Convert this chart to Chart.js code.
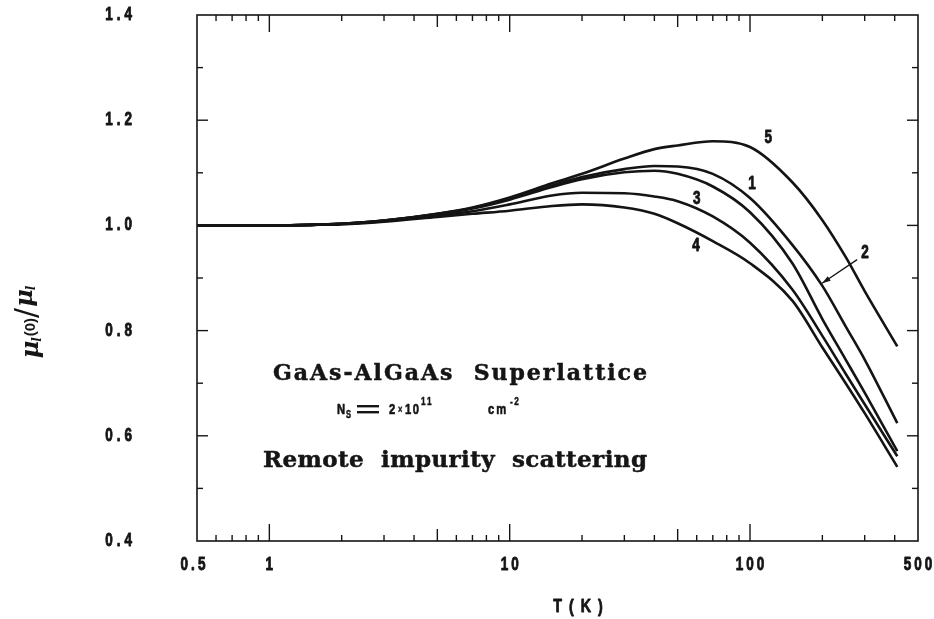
<!DOCTYPE html>
<html><head><meta charset="utf-8">
<script src="https://cdn.jsdelivr.net/npm/chart.js@4/dist/chart.umd.min.js"></script>
<style>html,body{margin:0;padding:0;background:#fff}</style>
</head><body>
<canvas id="c" width="934" height="619"></canvas>
<script>
// ---- data ----
const temps   = [0.5, 0.7, 1, 1.5, 2, 3, 5, 7, 10, 15, 20, 30, 40, 50, 70, 100, 150, 200, 250, 300, 410];
const curve1  = [1.000,1.000,1.000,1.001,1.003,1.009,1.022,1.033,1.051,1.076,1.092,1.107,1.113,1.112,1.098,1.052,0.963,0.885,0.808,0.745,0.624];
const curve2  = [1.000,1.000,1.000,1.001,1.003,1.009,1.021,1.032,1.049,1.073,1.088,1.101,1.104,1.098,1.074,1.025,0.928,0.822,0.745,0.682,0.571];
const curve3  = [1.000,1.000,1.000,1.001,1.003,1.008,1.019,1.027,1.040,1.057,1.062,1.061,1.055,1.046,1.017,0.967,0.878,0.790,0.718,0.660,0.561];
const curve4  = [1.000,1.000,1.000,1.001,1.002,1.007,1.016,1.022,1.028,1.037,1.040,1.034,1.022,1.004,0.970,0.928,0.857,0.768,0.700,0.643,0.541];
const curve5  = [1.000,1.000,1.000,1.001,1.003,1.009,1.022,1.034,1.053,1.080,1.098,1.127,1.145,1.152,1.160,1.149,1.082,1.010,0.940,0.875,0.770];
const curveNames = ['1','2','3','4','5'];
const xTickValues = [0.5, 1, 10, 100, 500];
const xTickLabels = ['0.5', '1', '10', '100', '500'];
const yTickValues = [0.4, 0.6, 0.8, 1.0, 1.2, 1.4];
const yTickLabels = ['0.4', '0.6', '0.8', '1.0', '1.2', '1.4'];
const xMajorMarks = [1, 10, 100];
const xMidMarks   = [5, 50];
const xMinorMarks = [0.6,0.7,0.8,0.9,2,3,4,6,7,8,9,20,30,40,60,70,80,90,200,300,400];
const yMajorMarks = [0.6, 0.8, 1.0, 1.2];
const yMinorMarks = [0.5, 0.7, 0.9, 1.1, 1.3];

// annotation anchors in data coordinates (T, value)
const curveLabelAnchors = [
  {text:'5', T:119, v:1.166},
  {text:'1', T:102, v:1.078},
  {text:'3', T:60,  v:1.050},
  {text:'4', T:59.6,v:0.961},
  {text:'2', T:301, v:0.947}
];
const arrowFrom = {T:279, v:0.935};
const arrowTo   = {T:199.5, v:0.890};

const SANS  = '"Liberation Sans", Arial, sans-serif';
const SERIF = '"DejaVu Serif", "Liberation Serif", serif';

// condensed bold text drawn glyph by glyph
function cond(ctx, text, x, y, o){
  const size = o.size || 18, sx = o.sx || 0.75, sp = o.sp || 0;
  ctx.save();
  ctx.font = 'bold ' + size + 'px ' + SANS;
  ctx.textAlign = 'left';
  ctx.textBaseline = o.baseline || 'middle';
  ctx.lineWidth = o.stroke === undefined ? 0.9 : o.stroke;
  ctx.lineJoin = 'round';
  const chars = [...text];
  const w = chars.map(c => ctx.measureText(c).width * sx);
  const total = w.reduce((a,b)=>a+b,0) + sp*(chars.length-1);
  let cx = o.align==='center' ? x-total/2 : o.align==='right' ? x-total : x;
  chars.forEach((c,i)=>{
    ctx.save(); ctx.translate(cx,y); ctx.scale(sx,1);
    ctx.fillText(c,0,0);
    if (ctx.lineWidth > 0) ctx.strokeText(c,0,0);
    ctx.restore(); cx += w[i]+sp;
  });
  ctx.restore();
  return total;
}

function drawFit(ctx, text, font, left, right, baseline){
  ctx.font = font;
  const chars = text.split('');
  const widths = chars.map(c => ctx.measureText(c).width);
  const total = widths.reduce((a,b)=>a+b,0);
  const extra = chars.length>1 ? ((right-left)-total)/(chars.length-1) : 0;
  let x = left;
  ctx.textAlign='left'; ctx.textBaseline='alphabetic';
  ctx.lineWidth = 0.5;
  chars.forEach((c,i)=>{ ctx.fillText(c, x, baseline); ctx.strokeText(c, x, baseline); x += widths[i] + extra; });
}

const deco = {
  id: 'deco',
  afterDatasetsDraw(chart){
    const {ctx, chartArea:a, scales:{x, y}} = chart;
    ctx.save();
    ctx.strokeStyle = '#151515';
    ctx.fillStyle = '#151515';
    ctx.lineWidth = 1.6;
    ctx.strokeRect(a.left, a.top, a.right-a.left, a.bottom-a.top);
    const seg = (x1,y1,x2,y2)=>{ctx.beginPath();ctx.moveTo(x1,y1);ctx.lineTo(x2,y2);ctx.stroke();};
    const xt = (v,len)=>{const p=x.getPixelForValue(v); seg(p,a.bottom,p,a.bottom-len); seg(p,a.top,p,a.top+len);};
    const yt = (v,len)=>{const p=y.getPixelForValue(v); seg(a.left,p,a.left+len,p); seg(a.right,p,a.right-len,p);};
    ctx.lineWidth = 1.4;
    xMajorMarks.forEach(v=>xt(v,17));
    xMidMarks.forEach(v=>xt(v,12));
    xMinorMarks.forEach(v=>xt(v,6));
    yMajorMarks.forEach(v=>yt(v,11));
    yMinorMarks.forEach(v=>yt(v,6));

    // tick labels
    xTickValues.forEach((v,i)=>cond(ctx, xTickLabels[i], x.getPixelForValue(v) - (i===0?4:0), a.bottom + 24, {align:'center', sp:3}));
    yTickValues.forEach((v,i)=>cond(ctx, yTickLabels[i], a.left - 65, y.getPixelForValue(v), {align:'right', sp:4}));

    // curve labels
    curveLabelAnchors.forEach(l=>cond(ctx, l.text, x.getPixelForValue(l.T), y.getPixelForValue(l.v), {align:'center'}));

    // arrow for curve 2
    const ax1=x.getPixelForValue(arrowFrom.T), ay1=y.getPixelForValue(arrowFrom.v);
    const ax2=x.getPixelForValue(arrowTo.T),   ay2=y.getPixelForValue(arrowTo.v);
    ctx.lineWidth=1.3; seg(ax1,ay1,ax2,ay2);
    const ang=Math.atan2(ay2-ay1, ax2-ax1);
    ctx.beginPath();
    ctx.moveTo(ax2,ay2);
    ctx.lineTo(ax2-9*Math.cos(ang-0.3), ay2-9*Math.sin(ang-0.3));
    ctx.lineTo(ax2-9*Math.cos(ang+0.3), ay2-9*Math.sin(ang+0.3));
    ctx.closePath(); ctx.fill();

    // text block
    drawFit(ctx, 'GaAs-AlGaAs  Superlattice', 'bold 22px ' + SERIF, 273, 647, 380);
    drawFit(ctx, 'Remote  impurity  scattering', 'bold 23px ' + SERIF, 263, 647, 467);

    // N_s = 2x10^11 cm^-2
    const bl = 414;
    cond(ctx, 'N', 337, bl, {size:15, baseline:'alphabetic', stroke:0.6});
    cond(ctx, 'S', 346, bl+4, {size:10, baseline:'alphabetic', stroke:0.5});
    ctx.fillRect(357, bl-9, 22, 2.4);
    ctx.fillRect(357, bl-3, 22, 2.4);
    cond(ctx, '2', 389, bl, {size:15, baseline:'alphabetic', stroke:0.6});
    cond(ctx, '×', 398, bl-1, {size:10, baseline:'alphabetic', stroke:0.4});
    cond(ctx, '10', 405, bl, {size:15, sp:1.5, baseline:'alphabetic', stroke:0.6});
    cond(ctx, '11', 421, bl-9, {size:11, sp:1.5, baseline:'alphabetic', stroke:0.5});
    cond(ctx, 'cm', 488, bl, {size:15, sp:2, baseline:'alphabetic', stroke:0.6});
    cond(ctx, '-2', 510, bl-9, {size:11, sp:1.5, baseline:'alphabetic', stroke:0.5});

    // x title
    cond(ctx, 'T(K)', 578, 607, {size:19, sp:7, align:'center'});

    // y title (rotated)
    ctx.save();
    ctx.translate(32, 322);
    ctx.rotate(-Math.PI/2);
    const parts = [
      {t:'μ', f:'italic bold 24px ' + SERIF, dy:0, g:-1},
      {t:'l', f:'italic bold 12px ' + SERIF, dy:3, g:1},
      {t:'(0)', f:'bold 15px ' + SANS, dy:-3, g:0},
      {t:'/', f:'30px "DejaVu Sans", sans-serif', dy:-2, g:1},
      {t:'μ', f:'italic bold 24px ' + SERIF, dy:-6, g:-1},
      {t:'l', f:'italic bold 12px ' + SERIF, dy:-3, g:0}
    ];
    let tw = 0;
    parts.forEach(p=>{ctx.font=p.f; p.w=ctx.measureText(p.t).width; tw+=p.w+p.g;});
    let px = -tw/2;
    ctx.textAlign='left'; ctx.textBaseline='alphabetic';
    parts.forEach(p=>{ctx.font=p.f; ctx.fillText(p.t, px, 6+p.dy); px+=p.w+p.g;});
    ctx.restore();

    ctx.restore();
  }
};

const series = [curve1, curve2, curve3, curve4, curve5];
new Chart(document.getElementById('c'), {
  type: 'line',
  data: {
    datasets: series.map((vals, i) => ({
      label: curveNames[i],
      data: temps.map((t, j) => ({x: t, y: vals[j]})),
      borderColor: '#141414',
      borderWidth: 2.6,
      pointRadius: 0,
      fill: false,
      cubicInterpolationMode: 'monotone'
    }))
  },
  options: {
    responsive: false,
    animation: false,
    devicePixelRatio: 1,
    layout: {padding: {top: 15, right: 16, left: 0, bottom: 0}},
    plugins: {legend: {display: false}, tooltip: {enabled: false}},
    scales: {
      x: {
        type: 'logarithmic', min: 0.5, max: 500,
        grid: {display: false}, border: {display: false},
        ticks: {display: false},
        afterFit: s => { s.height = 78; }
      },
      y: {
        type: 'linear', min: 0.4, max: 1.4,
        grid: {display: false}, border: {display: false},
        ticks: {display: false},
        afterFit: s => { s.width = 197; }
      }
    }
  },
  plugins: [deco]
});
</script>
</body></html>
